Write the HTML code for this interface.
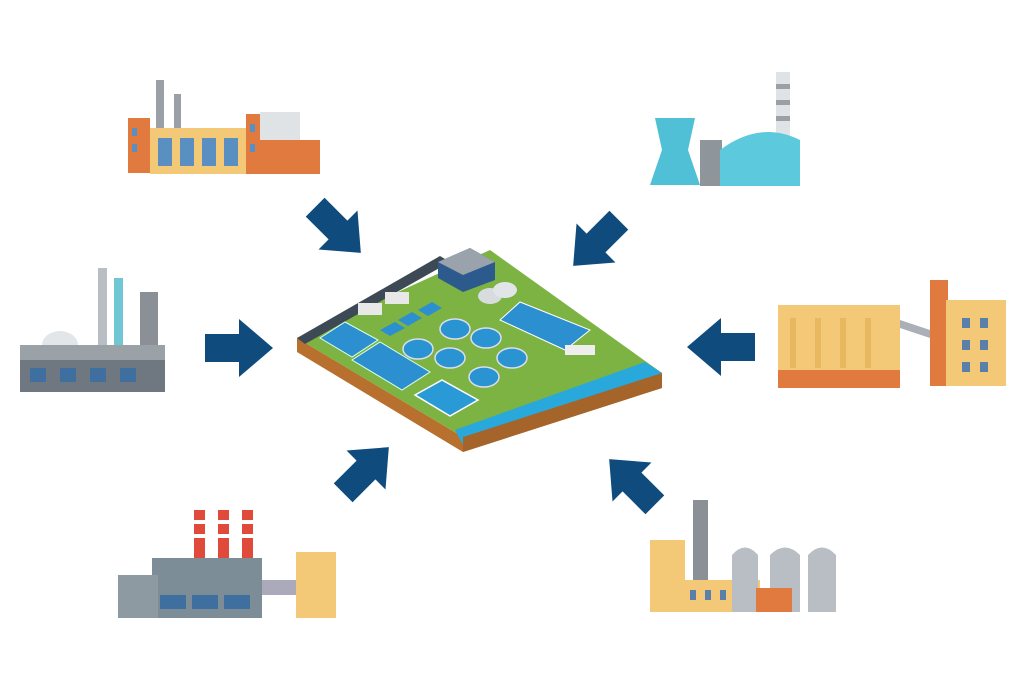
<!DOCTYPE html>
<html><head><meta charset="utf-8"><style>html,body{margin:0;padding:0;background:#fff}svg{display:block}</style></head>
<body>
<svg width="1024" height="689" viewBox="0 0 1024 689" xmlns="http://www.w3.org/2000/svg">
<defs>
<polygon id="arr" points="-34,-14 0,-14 0,-29 34,0 0,29 0,14 -34,14" fill="#0f4c7d"/>
</defs>
<use href="#arr" transform="translate(239,348)"/>
<use href="#arr" transform="translate(721,347) rotate(180)"/>
<use href="#arr" transform="translate(338,230) rotate(45) scale(0.95)"/>
<use href="#arr" transform="translate(596,243) rotate(135) scale(0.95)"/>
<use href="#arr" transform="translate(366,470) rotate(-45) scale(0.95)"/>
<use href="#arr" transform="translate(632,482) rotate(-135) scale(0.95)"/>

<!-- platform -->
<polygon points="297,338 297,352 463,452 662,388 662,373 463,437" fill="#b8702e"/>
<polygon points="297,338 490,250 662,373 463,437" fill="#7cb342"/>
<polygon points="297,338 440,256 450,262 305,344" fill="#3d4a55"/>
<polygon points="455,430 645,362 662,373 463,445" fill="#29a8dc"/>
<polygon points="463,437 662,373 662,388 463,452" fill="#a5642a"/>
<polygon points="320,338 345,322 378,340 352,357" fill="#2c8fd0" stroke="#dfe" stroke-width="1"/>
<polygon points="352,360 380,342 430,372 402,390" fill="#2c8fd0" stroke="#dfe" stroke-width="1"/>
<polygon points="415,395 442,380 478,400 450,416" fill="#2a9ad6" stroke="#fff" stroke-width="1.5"/>
<polygon points="500,320 520,302 590,330 565,350" fill="#2c8fd0" stroke="#fff" stroke-width="1"/>
<polygon points="380,330 395,322 405,328 390,336" fill="#2c8fd0"/>
<polygon points="398,320 412,312 422,318 408,326" fill="#2c8fd0"/>
<polygon points="418,310 432,302 442,308 428,316" fill="#2c8fd0"/>
<g fill="#2a94d3" stroke="#dde" stroke-width="1.5">
<ellipse cx="455" cy="329" rx="15" ry="10"/><ellipse cx="486" cy="338" rx="15" ry="10"/>
<ellipse cx="418" cy="349" rx="15" ry="10"/><ellipse cx="450" cy="358" rx="15" ry="10"/>
<ellipse cx="512" cy="358" rx="15" ry="10"/><ellipse cx="484" cy="377" rx="15" ry="10"/>
</g>
<polygon points="438,262 470,248 495,262 495,280 463,292 438,278" fill="#2d5a8c"/>
<polygon points="438,262 470,248 495,262 463,275" fill="#9aa3ab"/>
<ellipse cx="490" cy="296" rx="12" ry="8" fill="#d8dcdf"/><ellipse cx="505" cy="290" rx="12" ry="8" fill="#e2e5e7"/>
<rect x="358" y="303" width="24" height="12" fill="#e8e8e8"/><rect x="385" y="292" width="24" height="12" fill="#e8e8e8"/>
<rect x="565" y="345" width="30" height="10" fill="#eee"/>

<!-- top-left factory -->
<rect x="156" y="80" width="8" height="50" fill="#9aa0a6"/><rect x="174" y="94" width="7" height="36" fill="#9aa0a6"/>
<rect x="128" y="118" width="22" height="55" fill="#e07a3e"/>
<rect x="150" y="128" width="98" height="46" fill="#f3c978"/>
<rect x="246" y="114" width="22" height="60" fill="#e07a3e"/>
<rect x="260" y="112" width="40" height="28" fill="#dfe3e6"/>
<rect x="268" y="140" width="52" height="34" fill="#e07a3e"/>
<g fill="#5a8fc1"><rect x="158" y="138" width="14" height="28"/><rect x="180" y="138" width="14" height="28"/><rect x="202" y="138" width="14" height="28"/><rect x="224" y="138" width="14" height="28"/>
<rect x="132" y="128" width="5" height="8"/><rect x="132" y="144" width="5" height="8"/><rect x="250" y="124" width="5" height="8"/><rect x="250" y="144" width="5" height="8"/></g>

<!-- top-right power plant -->
<rect x="776" y="72" width="14" height="70" fill="#dfe3e6"/>
<g fill="#9aa0a6"><rect x="776" y="84" width="14" height="5"/><rect x="776" y="100" width="14" height="5"/><rect x="776" y="116" width="14" height="5"/></g>
<polygon points="655,118 695,118 688,150 700,185 650,185 662,150" fill="#4fc0d6"/>
<rect x="700" y="140" width="22" height="46" fill="#8e969c"/>
<path d="M720,186 L720,150 Q760,120 800,140 L800,186 Z" fill="#5cc9dc"/>

<!-- left refinery -->
<rect x="98" y="268" width="9" height="80" fill="#b8bec3"/><rect x="114" y="278" width="9" height="70" fill="#70c7d3"/>
<rect x="140" y="292" width="18" height="100" fill="#8a9096"/>
<ellipse cx="60" cy="345" rx="18" ry="14" fill="#e3e6e8"/>
<rect x="20" y="345" width="145" height="47" fill="#9aa2a8"/>
<rect x="20" y="360" width="145" height="32" fill="#6f7880"/>
<g fill="#3e6f9e"><rect x="30" y="368" width="16" height="14"/><rect x="60" y="368" width="16" height="14"/><rect x="90" y="368" width="16" height="14"/><rect x="120" y="368" width="16" height="14"/></g>

<!-- right silos -->
<rect x="778" y="305" width="122" height="65" fill="#f3c978"/>
<g fill="#e8b860"><rect x="790" y="318" width="6" height="50"/><rect x="815" y="318" width="6" height="50"/><rect x="840" y="318" width="6" height="50"/><rect x="865" y="318" width="6" height="50"/></g>
<rect x="778" y="370" width="122" height="18" fill="#e07a3e"/>
<rect x="930" y="280" width="18" height="106" fill="#e07a3e"/>
<rect x="946" y="300" width="60" height="86" fill="#f3c978"/>
<g fill="#5a7fa8"><rect x="962" y="318" width="8" height="10"/><rect x="980" y="318" width="8" height="10"/><rect x="962" y="340" width="8" height="10"/><rect x="980" y="340" width="8" height="10"/><rect x="962" y="362" width="8" height="10"/><rect x="980" y="362" width="8" height="10"/></g>
<polygon points="900,320 930,330 930,338 900,328" fill="#aab0b5"/>

<!-- bottom-left power plant -->
<g fill="#e04a3a"><rect x="194" y="510" width="11" height="50"/><rect x="218" y="510" width="11" height="50"/><rect x="242" y="510" width="11" height="50"/></g>
<g fill="#fff"><rect x="194" y="520" width="11" height="4"/><rect x="218" y="520" width="11" height="4"/><rect x="242" y="520" width="11" height="4"/><rect x="194" y="534" width="11" height="4"/><rect x="218" y="534" width="11" height="4"/><rect x="242" y="534" width="11" height="4"/></g>
<rect x="152" y="558" width="110" height="60" fill="#7d8d98"/>
<g fill="#3e6f9e"><rect x="160" y="595" width="26" height="14"/><rect x="192" y="595" width="26" height="14"/><rect x="224" y="595" width="26" height="14"/></g>
<rect x="118" y="575" width="40" height="43" fill="#8e9aa2"/>
<rect x="262" y="580" width="35" height="15" fill="#aab"/>
<rect x="296" y="552" width="40" height="66" fill="#f3c978"/>

<!-- bottom-right factory -->
<rect x="693" y="500" width="15" height="80" fill="#8a9096"/>
<rect x="650" y="540" width="35" height="72" fill="#f3c978"/>
<rect x="680" y="580" width="80" height="32" fill="#f3c978"/>
<g fill="#5a7fa8"><rect x="690" y="590" width="6" height="10"/><rect x="705" y="590" width="6" height="10"/><rect x="720" y="590" width="6" height="10"/></g>
<path d="M732,612 L732,555 Q745,540 758,555 L758,612 Z" fill="#b8bec3"/>
<path d="M770,612 L770,555 Q785,540 800,555 L800,612 Z" fill="#b8bec3"/>
<path d="M808,612 L808,555 Q822,540 836,555 L836,612 Z" fill="#b8bec3"/>
<rect x="756" y="588" width="36" height="24" fill="#e07a3e"/>
</svg>
</body></html>
